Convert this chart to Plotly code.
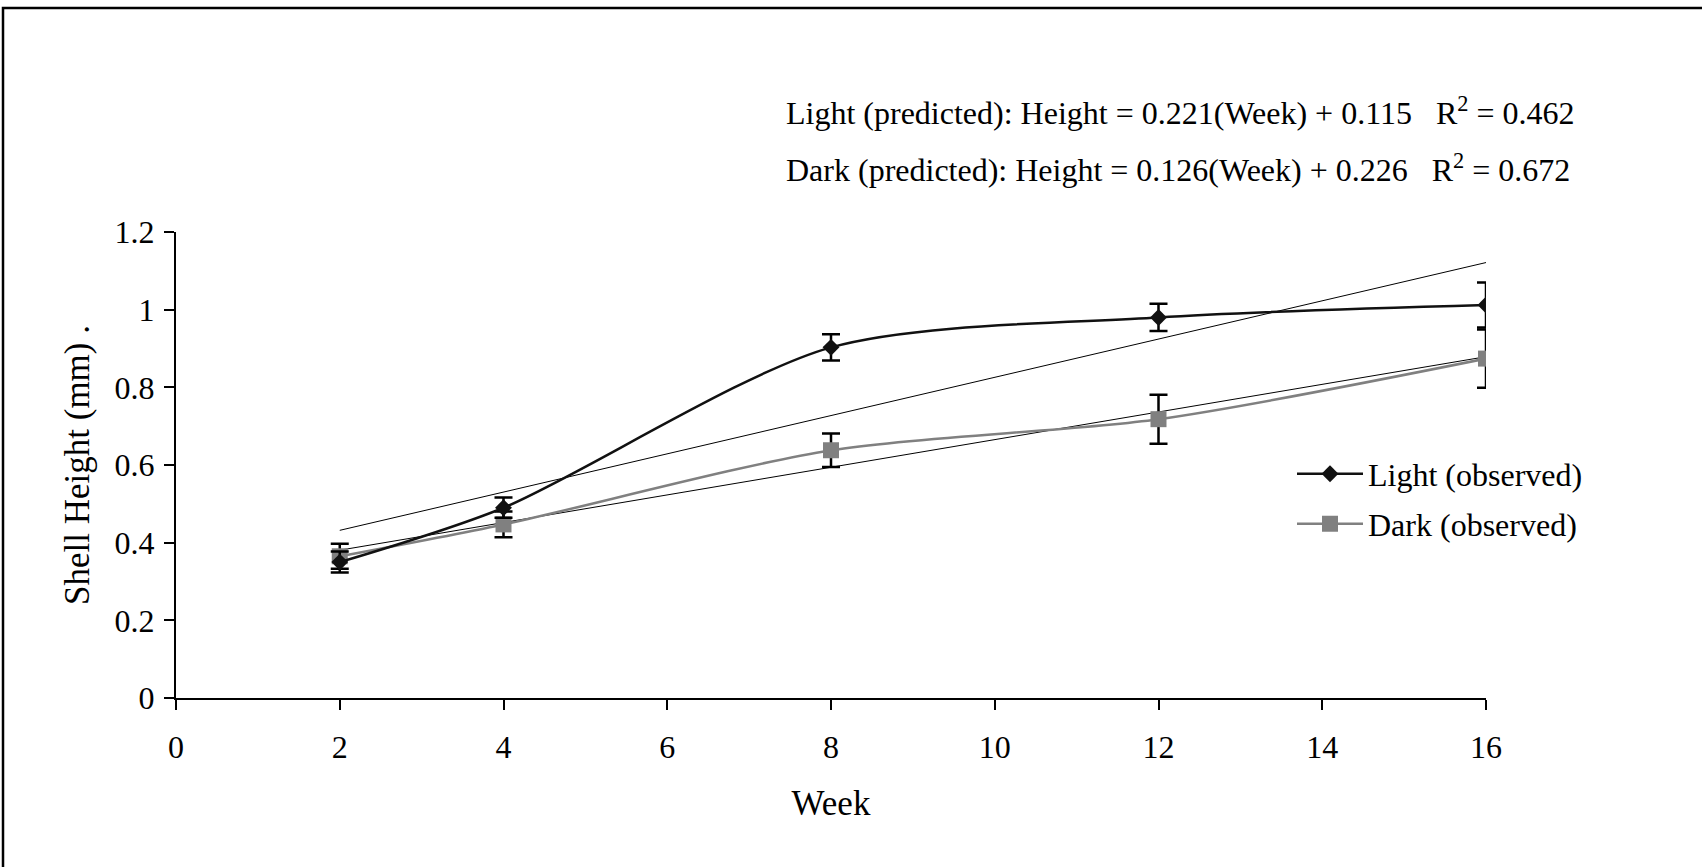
import numpy as np
import plotly.graph_objects as go

# ---- data ----
weeks = [2, 4, 8, 12, 16]
light_obs = [0.350, 0.490, 0.903, 0.980, 1.012]
light_err = [0.027, 0.026, 0.034, 0.035, 0.058]
dark_obs = [0.365, 0.447, 0.638, 0.718, 0.874]
dark_err = [0.032, 0.033, 0.043, 0.063, 0.075]
x_ticks = [0, 2, 4, 6, 8, 10, 12, 14, 16]
y_ticks = [0, 0.2, 0.4, 0.6, 0.8, 1.0, 1.2]
eq_light = "Light (predicted): Height = 0.221(Week) + 0.115\u00a0\u00a0\u00a0R<sup>2</sup> = 0.462"
eq_dark = "Dark (predicted): Height = 0.126(Week) + 0.226\u00a0\u00a0\u00a0R<sup>2</sup> = 0.672"

# linear trendlines fitted to the observed means
trend_x = [weeks[0], weeks[-1]]
lp = np.polyfit(weeks, light_obs, 1)
dp = np.polyfit(weeks, dark_obs, 1)
light_trend = list(np.polyval(lp, trend_x))
dark_trend = list(np.polyval(dp, trend_x))

FONT = "Liberation Serif, Times New Roman, serif"
FS = 32
TFS = 35

fig = go.Figure()

fig.add_trace(go.Scatter(x=trend_x, y=light_trend, mode="lines",
                         line=dict(color="black", width=1), showlegend=False,
                         hoverinfo="skip"))
fig.add_trace(go.Scatter(x=trend_x, y=dark_trend, mode="lines",
                         line=dict(color="black", width=1), showlegend=False,
                         hoverinfo="skip"))

fig.add_trace(go.Scatter(
    x=weeks, y=dark_obs, name="Dark (observed)", mode="lines+markers",
    line=dict(color="#808080", width=2.5, shape="spline", smoothing=0.8),
    marker=dict(symbol="square", size=16, color="#808080"),
    error_y=dict(type="data", array=dark_err, color="black", thickness=2.5, width=9),
    legend="legend2"))

fig.add_trace(go.Scatter(
    x=weeks, y=light_obs, name="Light (observed)", mode="lines+markers",
    line=dict(color="#111111", width=2.5, shape="spline", smoothing=0.8),
    marker=dict(symbol="diamond", size=13, color="#111111"),
    error_y=dict(type="data", array=light_err, color="black", thickness=2.5, width=9),
    legend="legend"))

W, H = 1702, 867
L, R, T, B = 176, 216, 232, 169
PW, PH = W - L - R, H - T - B

def px(xp):
    return (xp - L) / PW

def py(yp):
    return (H - B - yp) / PH

fig.update_layout(
    width=W, height=H,
    margin=dict(l=L, r=R, t=T, b=B, autoexpand=False),
    paper_bgcolor="white", plot_bgcolor="white",
    font=dict(family=FONT, size=FS, color="black"),
    xaxis=dict(range=[0, 16], tickvals=x_ticks, ticks="outside", ticklen=10,
               tickwidth=2, tickcolor="black", showline=True, linecolor="black",
               linewidth=2, showgrid=False, zeroline=False,
               ticklabelstandoff=10,
               title=dict(text="Week", standoff=26,
                          font=dict(family=FONT, size=TFS)),
               tickfont=dict(family=FONT, size=FS)),
    yaxis=dict(range=[0, 1.2], tickvals=y_ticks, ticks="outside", ticklen=10,
               tickwidth=2, tickcolor="black", showline=True, linecolor="black",
               linewidth=2, showgrid=False, zeroline=False,
               ticklabelstandoff=3,
               title=dict(text="Shell Height (mm)\u00a0.", standoff=14,
                          font=dict(family=FONT, size=TFS)),
               tickfont=dict(family=FONT, size=FS)),
    legend=dict(x=px(1292), y=py(474), xanchor="left", yanchor="middle",
                itemwidth=66,
                bgcolor="rgba(0,0,0,0)", font=dict(family=FONT, size=FS)),
    legend2=dict(x=px(1292), y=py(524), xanchor="left", yanchor="middle",
                 itemwidth=66,
                 bgcolor="rgba(0,0,0,0)", font=dict(family=FONT, size=FS)),
    annotations=[
        dict(text=eq_light, x=px(784), y=py(111), xref="paper", yref="paper",
             xanchor="left", yanchor="middle", showarrow=False,
             font=dict(family=FONT, size=FS)),
        dict(text=eq_dark, x=px(784), y=py(168), xref="paper", yref="paper",
             xanchor="left", yanchor="middle", showarrow=False,
             font=dict(family=FONT, size=FS)),
    ],
    shapes=[
        dict(type="rect", xref="paper", yref="paper",
             x0=px(3), x1=px(1760), y0=py(930), y1=py(8),
             line=dict(color="black", width=2.5), fillcolor="rgba(0,0,0,0)"),
    ],
)

fig.write_html("out.html", config={"displayModeBar": False},
               post_script="document.body.style.margin='0';document.body.style.overflow='hidden';")
